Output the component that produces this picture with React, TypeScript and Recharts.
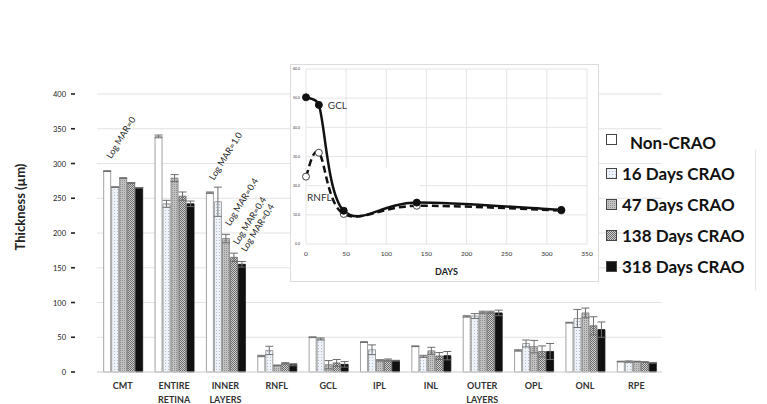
import React from 'react';
import {
  BarChart,
  Bar,
  XAxis,
  YAxis,
  CartesianGrid,
  ErrorBar,
  LabelList,
  LineChart,
  Line,
  ReferenceArea
} from 'recharts';

// retinal layer thickness (µm), mean per group
const categories = ['CMT', 'ENTIRE RETINA', 'INNER LAYERS', 'RNFL', 'GCL', 'IPL', 'INL', 'OUTER LAYERS', 'OPL', 'ONL', 'RPE'];

const nonCrao = [289, 339, 258, 23, 50, 43, 37, 80, 31, 71, 15];
const days16 = [266, 242, 245, 31, 47.5, 32, 22.5, 80.5, 41, 77, 15];
const days47 = [279, 279, 192, 9.5, 10.5, 16.7, 30.5, 86, 36.5, 85, 15];
const days138 = [272, 253, 165, 12.4, 13, 17.2, 23, 86, 29.5, 66.5, 14.3];
const days318 = [265, 242, 155, 10.5, 11, 16.3, 23.5, 85, 29.5, 61, 13.2];

// error bar half-widths
const errNonCrao = [0.5, 2, 1, 1, 0.5, 0.5, 0.5, 1, 1, 0.5, 0.5];
const err16 = [0.5, 5, 21, 6, 1.5, 7, 1.5, 3.5, 5, 13, 1];
const err47 = [0.5, 5, 6, 0.5, 6, 1, 5, 1.5, 9, 7, 0.5];
const err138 = [0.5, 6, 6, 1, 5, 1.5, 5, 1.5, 8, 13, 0.5];
const err318 = [0.5, 4, 4, 1.5, 4, 0.5, 6, 4, 11.5, 11, 0.5];

const yTicks = [0, 50, 100, 150, 200, 250, 300, 350, 400];

// inset: GCL / RNFL thickness over time
const days = [0, 16, 47, 138, 318];
const gclThickness = [50.3, 47.7, 11.4, 14.2, 11.7];
const rnflThickness = [23.1, 31.3, 10.3, 13.1, 11.5];
const insetXTicks = [0, 50, 100, 150, 200, 250, 300, 350];
const insetYTicks = [0, 10, 20, 30, 40, 50, 60];

const annotations = [
  { category: 'CMT', key: 'nonCrao', text: 'Log MAR=0' },
  { category: 'INNER LAYERS', key: 'nonCrao', text: 'Log MAR=1.0' },
  { category: 'INNER LAYERS', key: 'd47', text: 'Log MAR=0.4' },
  { category: 'INNER LAYERS', key: 'd138', text: 'Log MAR=0.4' },
  { category: 'INNER LAYERS', key: 'd318', text: 'Log MAR=0.4' }
];

const series = [
  { key: 'nonCrao', err: 'eNonCrao', name: 'Non-CRAO', fill: '#ffffff', stroke: '#8a8a8a' },
  { key: 'd16', err: 'e16', name: '16 Days CRAO', fill: 'url(#p16)', stroke: '#8a8a8a' },
  { key: 'd47', err: 'e47', name: '47 Days CRAO', fill: 'url(#p47)', stroke: '#7a7a7a' },
  { key: 'd138', err: 'e138', name: '138 Days CRAO', fill: 'url(#p138)', stroke: '#666666' },
  { key: 'd318', err: 'e318', name: '318 Days CRAO', fill: '#111111', stroke: '#111111' }
];

const barData = categories.map((c, i) => ({
  category: c,
  nonCrao: nonCrao[i],
  d16: days16[i],
  d47: days47[i],
  d138: days138[i],
  d318: days318[i],
  eNonCrao: errNonCrao[i],
  e16: err16[i],
  e47: err47[i],
  e138: err138[i],
  e318: err318[i]
}));

const lineData = days.map((d, i) => ({ day: d, gcl: gclThickness[i], rnfl: rnflThickness[i] }));

// Excel-like smoothed line (catmull-rom with clamped handles)
const smoothCurve = (context: any) => {
  let pts: number[][] = [];
  const clamp = (ax: number, ay: number, vx: number, vy: number, max: number) => {
    const len = Math.hypot(vx, vy);
    const k = len > max && len > 0 ? max / len : 1;
    return [ax + vx * k, ay + vy * k];
  };
  return {
    areaStart() {},
    areaEnd() {},
    lineStart() {
      pts = [];
    },
    lineEnd() {
      const n = pts.length;
      if (!n) return;
      context.moveTo(pts[0][0], pts[0][1]);
      for (let i = 0; i < n - 1; i++) {
        const p0 = pts[Math.max(i - 1, 0)];
        const p1 = pts[i];
        const p2 = pts[i + 1];
        const p3 = pts[Math.min(i + 2, n - 1)];
        const seg = Math.hypot(p2[0] - p1[0], p2[1] - p1[1]) * 0.5;
        const c1 = clamp(p1[0], p1[1], (p2[0] - p0[0]) / 6, (p2[1] - p0[1]) / 6, seg);
        const c2 = clamp(p2[0], p2[1], -(p3[0] - p1[0]) / 6, -(p3[1] - p1[1]) / 6, seg);
        context.bezierCurveTo(c1[0], c1[1], c2[0], c2[1], p2[0], p2[1]);
      }
    },
    point(x: number, y: number) {
      pts.push([+x, +y]);
    }
  };
};

const YTick = (props: any) => {
  const { y, payload } = props;
  return (
    <g>
      <line x1={71} x2={75} y1={y} y2={y} stroke="#222" strokeWidth={1.6} />
      <text x={66} y={y} dy={3} textAnchor="end" fontSize={7.5} fill="#222">
        {payload.value}
      </text>
    </g>
  );
};

const CategoryTick = (props: any) => {
  const { x, y, payload } = props;
  const words = String(payload.value).split(' ');
  return (
    <text x={x} y={y} textAnchor="middle" fontSize={9} fontWeight={700} fill="#333">
      {words.map((w, i) => (
        <tspan key={i} x={x} dy={i === 0 ? 17 : 13.5}>
          {w}
        </tspan>
      ))}
    </text>
  );
};

const makeAnnotation = (seriesKey: string) => (props: any) => {
  const { x, y, width, value } = props;
  const a = annotations.find(an => an.key === seriesKey && an.category === value);
  if (!a) return null;
  const sx = Number(x) + Number(width) / 2 + 4;
  const sy = Number(y) - 12;
  return (
    <text x={sx} y={sy} transform={`rotate(-58 ${sx} ${sy})`} fontSize={9} fill="#222">
      {a.text}
    </text>
  );
};

const insetLabel = (text: string, idx: number, dx: number, dy: number) => (props: any) => {
  const { x, y, index } = props;
  if (index !== idx) return null;
  return (
    <text x={Number(x) + dx} y={Number(y) + dy} fontSize={10} fill="#333">
      {text}
    </text>
  );
};

const App: React.FC = () => {
  return (
    <div
      style={{
        position: 'absolute',
        left: 0,
        top: 0,
        width: 767,
        height: 404,
        background: '#ffffff',
        fontFamily: 'Lato, "Open Sans", sans-serif',
        overflow: 'hidden'
      }}
    >
      <svg width={767} height={404} style={{ position: 'absolute', left: 0, top: 0 }}>
        <defs>
          <pattern id="p16" width="3" height="3" patternUnits="userSpaceOnUse">
            <rect width="3" height="3" fill="#eef3f9" />
            <rect width="1" height="1" fill="#b3bcc8" />
          </pattern>
          <pattern id="p47" width="2" height="2" patternUnits="userSpaceOnUse">
            <rect width="2" height="2" fill="#c2c2c2" />
            <rect width="1" height="1" fill="#909090" />
          </pattern>
          <pattern id="p138" width="2" height="2" patternUnits="userSpaceOnUse">
            <rect width="2" height="2" fill="#d0d0d0" />
            <rect width="1" height="1" fill="#6a6a6a" />
            <rect x="1" y="1" width="1" height="1" fill="#6a6a6a" />
          </pattern>
        </defs>
        <text
          x={25}
          y={207}
          transform="rotate(-90 25 207)"
          textAnchor="middle"
          fontSize={13}
          fontWeight={700}
          fill="#222"
        >
          Thickness (µm)
        </text>
      </svg>

      <div style={{ position: 'absolute', left: 0, top: 0 }}>
        <BarChart
          width={767}
          height={404}
          data={barData}
          margin={{ top: 94, right: 105, left: 0, bottom: 0 }}
          barCategoryGap="13%"
          barGap={1}
        >
          <CartesianGrid vertical={false} stroke="#e2e2e2" />
          <XAxis
            dataKey="category"
            height={32}
            interval={0}
            tickLine={false}
            tickSize={0}
            tickMargin={0}
            axisLine={{ stroke: '#d8d8d8' }}
            tick={<CategoryTick />}
          />
          <YAxis
            width={97}
            domain={[0, 400]}
            ticks={yTicks}
            axisLine={false}
            tickLine={false}
            tick={<YTick />}
          />
          {series.map(s => (
            <Bar
              key={s.key}
              dataKey={s.key}
              name={s.name}
              fill={s.fill}
              stroke={s.stroke}
              strokeWidth={0.8}
              isAnimationActive={false}
            >
              <ErrorBar dataKey={s.err} width={4} stroke="#6e6e6e" strokeWidth={1} />
              <LabelList dataKey="category" content={makeAnnotation(s.key)} />
            </Bar>
          ))}
        </BarChart>
      </div>

      {/* legend */}
      <div style={{ position: 'absolute', left: 0, top: 0 }}>
        {series.map((s, i) => (
          <div
            key={s.key}
            style={{
              position: 'absolute',
              left: 606,
              top: 131 + i * 31,
              height: 22,
              display: 'flex',
              alignItems: 'center',
              whiteSpace: 'nowrap'
            }}
          >
            <svg width={11} height={11} style={{ marginTop: i === 0 ? -6 : 0 }}>
              <rect x={0.5} y={0.5} width={10} height={10} fill={s.fill} stroke="#444" strokeWidth={1} />
            </svg>
            <span
              style={{
                marginLeft: i === 0 ? 13 : 5,
                fontSize: 17,
                fontWeight: 700,
                color: '#111'
              }}
            >
              {s.name}
            </span>
          </div>
        ))}
      </div>
      <div style={{ position: 'absolute', left: 755, top: 150, width: 1, height: 140, background: '#e4e4e4' }} />

      {/* inset */}
      <div
        style={{
          position: 'absolute',
          left: 290,
          top: 64,
          width: 309,
          height: 218,
          boxSizing: 'border-box',
          border: '1px solid #dcdcdc',
          background: '#ffffff'
        }}
      >
        <LineChart
          width={307}
          height={216}
          data={lineData}
          margin={{ top: 4, right: 11, left: 0, bottom: 0 }}
        >
          <CartesianGrid stroke="#e4e4e4" />
          <XAxis
            dataKey="day"
            type="number"
            domain={[0, 350]}
            ticks={insetXTicks}
            height={37}
            axisLine={false}
            tickLine={false}
            tickSize={4}
            tickMargin={3}
            tick={{ fontSize: 6.5, fill: '#333' }}
            label={{ value: 'DAYS', position: 'insideBottom', offset: 6, fontSize: 9, fontWeight: 700, fill: '#222' }}
          />
          <YAxis
            type="number"
            domain={[0, 60]}
            ticks={insetYTicks}
            width={15}
            axisLine={false}
            tickLine={false}
            tickSize={2}
            tickMargin={4}
            tick={{ fontSize: 3.5, fill: '#333' }}
            tickFormatter={(v: number) => v.toFixed(1)}
          />
          <ReferenceArea x1={34} x2={142} y1={13.5} y2={26} fill="#ffffff" fillOpacity={1} stroke="none" />
          <Line
            dataKey="rnfl"
            type={smoothCurve as any}
            stroke="#111"
            strokeWidth={2.5}
            strokeDasharray="7 4"
            dot={{ r: 3.5, fill: '#ffffff', stroke: '#444', strokeWidth: 1, strokeDasharray: '0' }}
            isAnimationActive={false}
          >
            <LabelList dataKey="rnfl" content={insetLabel('RNFL', 0, 1, 24)} />
          </Line>
          <Line
            dataKey="gcl"
            type={smoothCurve as any}
            stroke="#111"
            strokeWidth={2.5}
            dot={{ r: 3.5, fill: '#111', stroke: '#111', strokeWidth: 1 }}
            isAnimationActive={false}
          >
            <LabelList dataKey="gcl" content={insetLabel('GCL', 1, 9, 4)} />
          </Line>
        </LineChart>
      </div>
    </div>
  );
};

export default App;
